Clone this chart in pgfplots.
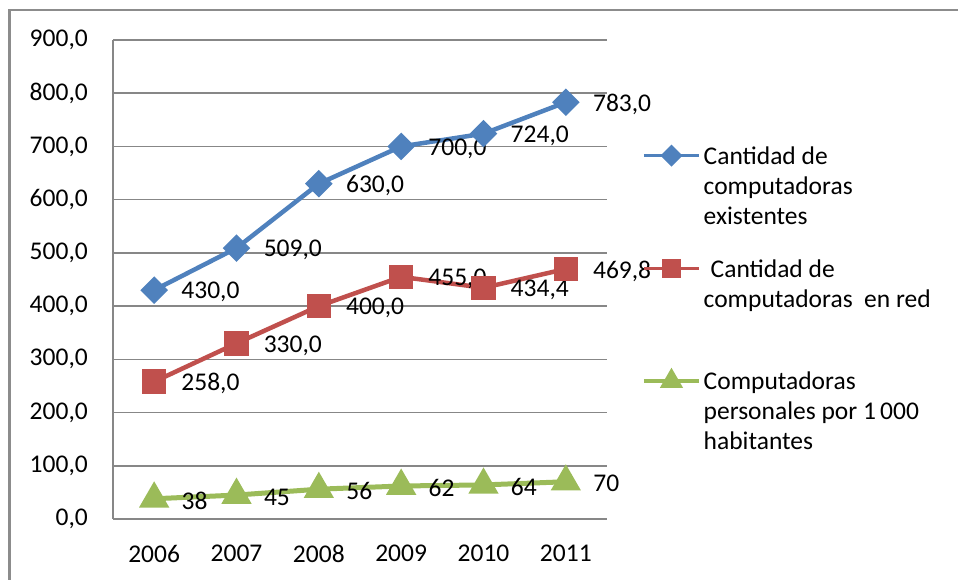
\documentclass[border=0pt]{standalone}
\usepackage{pgfplots}
\usepackage{pgfplotstable}
\pgfplotsset{compat=1.18}
\usepackage{fontspec}
\setmainfont{Carlito}
\definecolor{cblue}{HTML}{4F81BD}
\definecolor{cred}{HTML}{C0504D}
\definecolor{cgreen}{HTML}{9BBB59}
\definecolor{cgrid}{HTML}{878787}
\definecolor{cframe}{HTML}{8C8C8C}
\pgfplotstableread{
x y lab
0 430 430,0
1 509 509,0
2 630 630,0
3 700 700,0
4 724 724,0
5 783 783,0
}\tblue
\pgfplotstableread{
x y lab
0 258 258,0
1 330 330,0
2 400 400,0
3 455 455,0
4 434.4 434,4
5 469.8 469,8
}\tred
\pgfplotstableread{
x y lab
0 38 38
1 45 45
2 56 56
3 62 62
4 64 64
5 70 70
}\tgreen
\begin{document}
\fontsize{25.5}{30}\selectfont
\begin{tikzpicture}[x=1pt,y=1pt,font=\fontsize{25.5}{30}\selectfont]
\useasboundingbox (0,0) rectangle (958,580);
\draw[cframe, line width=2.5pt] (9.5,-10) -- (9.5,570) -- (975,570);
\begin{axis}[
  at={(113pt,61pt)}, anchor=south west,
  scale only axis, width=494pt, height=479pt,
  xmin=-0.5, xmax=5.5, ymin=0, ymax=900,
  clip=false,
  axis x line*=bottom, axis y line*=left,
  axis line style={cgrid, line width=1.5pt, -},
  ymajorgrids, grid style={cgrid, line width=1.5pt},
  major tick length=0pt,
  xtick={0,1,2,3,4,5},
  xticklabels={2006,2007,2008,2009,2010,2011},
  ytick={0,100,...,900},
  tick label style={font=\fontsize{25.5}{30}\selectfont, inner sep=0pt},
  xticklabel style={anchor=north, yshift=-26pt},
  yticklabel style={anchor=east, xshift=-25pt, /pgf/number format/.cd, fixed, fixed zerofill, precision=1, use comma, assume math mode=true},
  point meta=explicit symbolic,
  nodes near coords,
  every node near coord/.append style={anchor=west, inner sep=0pt, xshift=25pt, yshift=-2pt, text=black, font=\fontsize{25.5}{30}\selectfont},
  legend style={at={(axis description cs:1.0709,0.785)}, anchor=north west, draw=none, fill=none, inner sep=0pt, row sep=88pt, column sep=3pt, nodes={inner sep=0pt}, font=\fontsize{25.5}{30}\selectfont},
  legend cell align=left,
  legend image code/.code={\draw[mark repeat=2, mark phase=2, #1, line width=3.5pt, every mark/.append style={scale=0.8}] plot coordinates {(0pt,0pt) (27.5pt,0pt) (55pt,0pt)};},
]
\addplot[cblue, line width=4.5pt, mark=square*, mark size=7.5pt, mark options={rotate=45, solid}] table[x=x, y=y, meta=lab] {\tblue};
\addlegendentry{\parbox[t]{250pt}{\strut Cantidad de\newline\strut computadoras\newline\strut existentes}}
\addplot[cred, line width=4.5pt, mark=square*, mark size=10pt] table[x=x, y=y, meta=lab] {\tred};
\addlegendentry{\parbox[t]{250pt}{\strut\hspace*{7pt}Cantidad de\newline\strut computadoras\ \ en red\newline\strut}}
\addplot[cgreen, line width=5pt, mark=triangle*, mark size=12.5pt] table[x=x, y=y, meta=lab] {\tgreen};
\addlegendentry{\parbox[t]{250pt}{\strut Computadoras\newline\strut personales por 1\,000\newline\strut habitantes}}
\end{axis}
\end{tikzpicture}
\end{document}
